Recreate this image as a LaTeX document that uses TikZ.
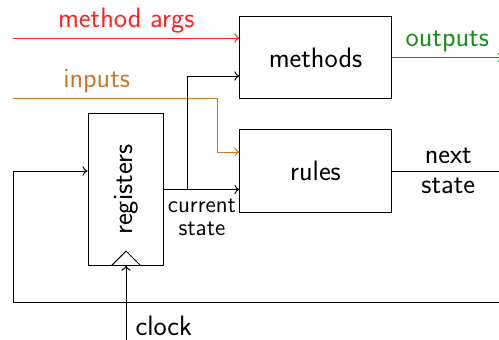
\documentclass[tikz,border=0pt]{standalone}
\usetikzlibrary{calc,arrows.meta}
\usepackage{xcolor}
\definecolor{argred}{RGB}{255,35,35}
\definecolor{inorange}{RGB}{205,120,40}
\definecolor{outgreen}{RGB}{25,140,25}

\begin{document}
\begin{tikzpicture}[x=0.552pt,y=-0.552pt,line width=0.55pt,
        >={To[length=2.8pt,width=5.2pt]},
        every node/.style={font=\fontsize{15.5}{17}\selectfont\sffamily},
        box/.style={draw, inner sep=0pt},
        lbl/.style={inner sep=2.5pt}]
        \useasboundingbox (0,0) rectangle (499,339);

        \node[box, minimum width=83.4pt, minimum height=45.8pt] (methods) at (315.5,57.5) {methods};
        \node[box, minimum width=83.4pt, minimum height=45.3pt] (rules) at (315.5,171) {rules};
        \node[box, minimum width=41.9pt, minimum height=83.4pt] (regs) at (126,189.5) {\rotatebox{90}{registers}};

        \coordinate (argin) at (13,38);
        \coordinate (inin) at (13,98.5);
        \coordinate (inbend) at (217,98.5);
        \coordinate (split) at (187,189.5);
        \coordinate (outend) at (503,57.5);
        \coordinate (loopr) at (505,171);
        \coordinate (loopb) at (13,302.5);
        \coordinate (clkin) at (126,345);

        \draw[argred,->] (argin) -- (argin -| methods.west) node[lbl,midway,above] {method args};
        \draw[inorange,->] (inin) -- (inbend) node[lbl,pos=0.41,above] {inputs} |- ($(rules.west)+(0,-19)$);
        \draw[->] (regs.east) -- (regs.east -| rules.west) node[midway,below,inner sep=5pt,align=center,font=\fontsize{13}{12.5}\selectfont\sffamily] {current\\state};
        \draw[->] (regs.east) -- (split) |- ($(methods.west)+(0,18.5)$);
        \draw[outgreen,->] (methods.east) -- (outend) node[lbl,midway,above] {outputs};

        \draw[->] (rules.east) -- (loopr) node[inner sep=3.5pt,midway,above] {next} node[inner sep=3.5pt,midway,below] {state} |- (loopb) |- ($(regs.west)+(0,-18.5)$);

        \draw[->] (clkin) -- (regs.south) node[pos=0.24,right,inner sep=5pt] {clock};
        \draw ($(regs.south)+(-14.5,0)$) -- ($(regs.south)+(0,-14.5)$) -- ($(regs.south)+(14.5,0)$);
    \end{tikzpicture}
\end{document}
